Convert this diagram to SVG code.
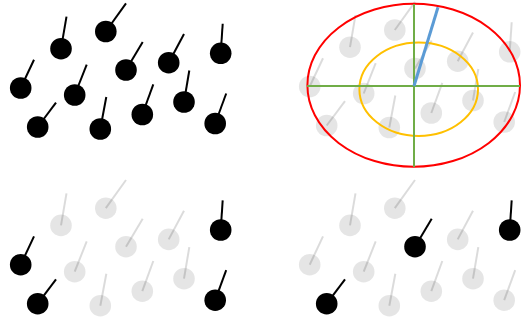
<svg xmlns="http://www.w3.org/2000/svg" width="527" height="322" viewBox="0 0 527 322">
<style>
.on line{stroke:#000;stroke-width:2}
.on circle{fill:#000}
.off line{stroke:#000;stroke-opacity:0.14;stroke-width:2}
.off circle{fill:#000;fill-opacity:0.1}
.axis{stroke:#70AD47;stroke-width:2;fill:none}
</style>
<rect width="527" height="322" fill="#fff"/>
<g id="panel-top-left">
<g id="tl-1" class="on"><line x1="61" y1="48.7" x2="66.5" y2="16.7"/><circle cx="61" cy="48.7" r="10.8"/></g>
<g id="tl-2" class="on"><line x1="105.8" y1="31.5" x2="126" y2="3.3"/><circle cx="105.8" cy="31.5" r="10.8"/></g>
<g id="tl-3" class="on"><line x1="20.7" y1="88" x2="34" y2="59.7"/><circle cx="20.7" cy="88" r="10.8"/></g>
<g id="tl-4" class="on"><line x1="74.7" y1="95" x2="86.7" y2="64.7"/><circle cx="74.7" cy="95" r="10.8"/></g>
<g id="tl-5" class="on"><line x1="126" y1="70" x2="142.7" y2="42"/><circle cx="126" cy="70" r="10.8"/></g>
<g id="tl-6" class="on"><line x1="168.7" y1="62.7" x2="184" y2="34"/><circle cx="168.7" cy="62.7" r="10.8"/></g>
<g id="tl-7" class="on"><line x1="220.7" y1="53.3" x2="222.7" y2="23.7"/><circle cx="220.7" cy="53.3" r="10.8"/></g>
<g id="tl-8" class="on"><line x1="37.7" y1="127" x2="56" y2="102.7"/><circle cx="37.7" cy="127" r="10.8"/></g>
<g id="tl-9" class="on"><line x1="100.3" y1="129" x2="106.3" y2="97"/><circle cx="100.3" cy="129" r="10.8"/></g>
<g id="tl-10" class="on"><line x1="142.3" y1="114.5" x2="153.3" y2="84.3"/><circle cx="142.3" cy="114.5" r="10.8"/></g>
<g id="tl-11" class="on"><line x1="184" y1="102" x2="189.3" y2="70.5"/><circle cx="184" cy="102" r="10.8"/></g>
<g id="tl-12" class="on"><line x1="215.2" y1="123.5" x2="226.2" y2="93.5"/><circle cx="215.2" cy="123.5" r="10.8"/></g>
</g>
<g id="panel-top-right" transform="translate(289,-1.5)">
<g id="tr-1" class="off"><circle cx="61" cy="48.7" r="10.8"/><line x1="61" y1="48.7" x2="66.5" y2="16.7"/></g>
<g id="tr-2" class="off"><circle cx="105.8" cy="31.5" r="10.8"/><line x1="105.8" y1="31.5" x2="126" y2="3.3"/></g>
<g id="tr-3" class="off"><circle cx="20.7" cy="88" r="10.8"/><line x1="20.7" y1="88" x2="34" y2="59.7"/></g>
<g id="tr-4" class="off"><circle cx="74.7" cy="95" r="10.8"/><line x1="74.7" y1="95" x2="86.7" y2="64.7"/></g>
<g id="tr-5" class="off"><circle cx="126" cy="70" r="10.8"/><line x1="126" y1="70" x2="142.7" y2="42"/></g>
<g id="tr-6" class="off"><circle cx="168.7" cy="62.7" r="10.8"/><line x1="168.7" y1="62.7" x2="184" y2="34"/></g>
<g id="tr-7" class="off"><circle cx="220.7" cy="53.3" r="10.8"/><line x1="220.7" y1="53.3" x2="222.7" y2="23.7"/></g>
<g id="tr-8" class="off"><circle cx="37.7" cy="127" r="10.8"/><line x1="37.7" y1="127" x2="56" y2="102.7"/></g>
<g id="tr-9" class="off"><circle cx="100.3" cy="129" r="10.8"/><line x1="100.3" y1="129" x2="106.3" y2="97"/></g>
<g id="tr-10" class="off"><circle cx="142.3" cy="114.5" r="10.8"/><line x1="142.3" y1="114.5" x2="153.3" y2="84.3"/></g>
<g id="tr-11" class="off"><circle cx="184" cy="102" r="10.8"/><line x1="184" y1="102" x2="189.3" y2="70.5"/></g>
<g id="tr-12" class="off"><circle cx="215.2" cy="123.5" r="10.8"/><line x1="215.2" y1="123.5" x2="226.2" y2="93.5"/></g>
</g>
<g id="connectors">
<ellipse id="outer-ellipse" cx="413.7" cy="85.3" rx="106.3" ry="81.5" fill="none" stroke="#FF0000" stroke-width="2"/>
<ellipse id="inner-ellipse" cx="418.7" cy="89.3" rx="59.3" ry="46.7" fill="none" stroke="#FFC000" stroke-width="2"/>
<line class="axis" x1="307" y1="86" x2="520" y2="86"/>
<line class="axis" x1="414" y1="4" x2="414" y2="167"/>
<line id="direction" x1="414" y1="86" x2="438" y2="7.3" stroke="#5B9BD5" stroke-width="3"/>
</g>
<g id="panel-bottom-left" transform="translate(0,176.7)">
<g id="bl-1" class="off"><circle cx="61" cy="48.7" r="10.8"/><line x1="61" y1="48.7" x2="66.5" y2="16.7"/></g>
<g id="bl-2" class="off"><circle cx="105.8" cy="31.5" r="10.8"/><line x1="105.8" y1="31.5" x2="126" y2="3.3"/></g>
<g id="bl-3" class="on"><line x1="20.7" y1="88" x2="34" y2="59.7"/><circle cx="20.7" cy="88" r="10.8"/></g>
<g id="bl-4" class="off"><circle cx="74.7" cy="95" r="10.8"/><line x1="74.7" y1="95" x2="86.7" y2="64.7"/></g>
<g id="bl-5" class="off"><circle cx="126" cy="70" r="10.8"/><line x1="126" y1="70" x2="142.7" y2="42"/></g>
<g id="bl-6" class="off"><circle cx="168.7" cy="62.7" r="10.8"/><line x1="168.7" y1="62.7" x2="184" y2="34"/></g>
<g id="bl-7" class="on"><line x1="220.7" y1="53.3" x2="222.7" y2="23.7"/><circle cx="220.7" cy="53.3" r="10.8"/></g>
<g id="bl-8" class="on"><line x1="37.7" y1="127" x2="56" y2="102.7"/><circle cx="37.7" cy="127" r="10.8"/></g>
<g id="bl-9" class="off"><circle cx="100.3" cy="129" r="10.8"/><line x1="100.3" y1="129" x2="106.3" y2="97"/></g>
<g id="bl-10" class="off"><circle cx="142.3" cy="114.5" r="10.8"/><line x1="142.3" y1="114.5" x2="153.3" y2="84.3"/></g>
<g id="bl-11" class="off"><circle cx="184" cy="102" r="10.8"/><line x1="184" y1="102" x2="189.3" y2="70.5"/></g>
<g id="bl-12" class="on"><line x1="215.2" y1="123.5" x2="226.2" y2="93.5"/><circle cx="215.2" cy="123.5" r="10.8"/></g>
</g>
<g id="panel-bottom-right" transform="translate(289,176.7)">
<g id="br-1" class="off"><circle cx="61" cy="48.7" r="10.8"/><line x1="61" y1="48.7" x2="66.5" y2="16.7"/></g>
<g id="br-2" class="off"><circle cx="105.8" cy="31.5" r="10.8"/><line x1="105.8" y1="31.5" x2="126" y2="3.3"/></g>
<g id="br-3" class="off"><circle cx="20.7" cy="88" r="10.8"/><line x1="20.7" y1="88" x2="34" y2="59.7"/></g>
<g id="br-4" class="off"><circle cx="74.7" cy="95" r="10.8"/><line x1="74.7" y1="95" x2="86.7" y2="64.7"/></g>
<g id="br-5" class="on"><line x1="126" y1="70" x2="142.7" y2="42"/><circle cx="126" cy="70" r="10.8"/></g>
<g id="br-6" class="off"><circle cx="168.7" cy="62.7" r="10.8"/><line x1="168.7" y1="62.7" x2="184" y2="34"/></g>
<g id="br-7" class="on"><line x1="220.7" y1="53.3" x2="222.7" y2="23.7"/><circle cx="220.7" cy="53.3" r="10.8"/></g>
<g id="br-8" class="on"><line x1="37.7" y1="127" x2="56" y2="102.7"/><circle cx="37.7" cy="127" r="10.8"/></g>
<g id="br-9" class="off"><circle cx="100.3" cy="129" r="10.8"/><line x1="100.3" y1="129" x2="106.3" y2="97"/></g>
<g id="br-10" class="off"><circle cx="142.3" cy="114.5" r="10.8"/><line x1="142.3" y1="114.5" x2="153.3" y2="84.3"/></g>
<g id="br-11" class="off"><circle cx="184" cy="102" r="10.8"/><line x1="184" y1="102" x2="189.3" y2="70.5"/></g>
<g id="br-12" class="off"><circle cx="215.2" cy="123.5" r="10.8"/><line x1="215.2" y1="123.5" x2="226.2" y2="93.5"/></g>
</g>
</svg>
